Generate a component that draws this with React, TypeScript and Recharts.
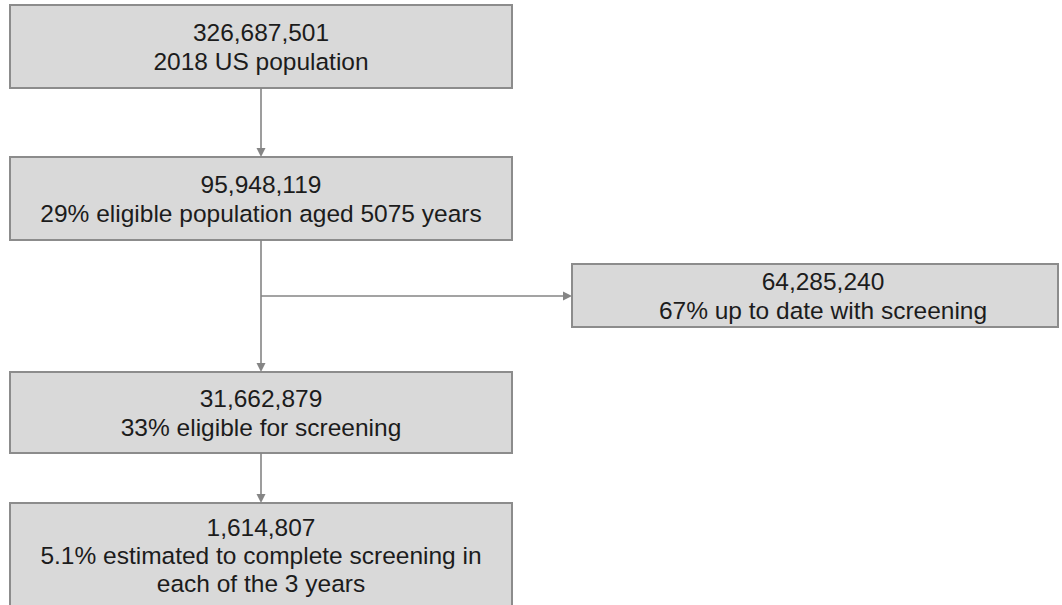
import { ComposedChart, XAxis, YAxis, ReferenceArea, ReferenceLine } from 'recharts';

// page has an 8px body margin by default, the flowchart fills the window
if (typeof document !== 'undefined') document.body.style.margin = '0';

const W = 1062;
const H = 605;

// step values and captions
const counts = [326687501, 95948119, 64285240, 31662879, 1614807];
const captions = [
  ['2018 US population'],
  ['29% eligible population aged 5075 years'],
  ['67% up to date with screening'],
  ['33% eligible for screening'],
  ['5.1% estimated to complete screening in', 'each of the 3 years'],
];
// arrows between steps [from, to]
const flows = [
  [0, 1],
  [1, 2],
  [1, 3],
  [3, 4],
];

// layout of the boxes (axis units == px)
const boxes = [
  { x1: 10, x2: 512, y1: 5, y2: 88, tx: 0 },
  { x1: 10, x2: 512, y1: 157, y2: 240, tx: 0 },
  { x1: 572, x2: 1058, y1: 264, y2: 327, tx: 8 },
  { x1: 10, x2: 512, y1: 372, y2: 453, tx: 0 },
  { x1: 10, x2: 512, y1: 503, y2: 608, tx: 0 },
];
const branchY = 296;

const LINE = '#858585';

const Arrow = (p: any) => {
  const { x1, y1, x2, y2 } = p;
  const a = Math.atan2(y2 - y1, x2 - x1);
  const len = 9;
  const half = 4.5;
  const bx = x2 - len * Math.cos(a);
  const by = y2 - len * Math.sin(a);
  const pts = `${x2},${y2} ${bx - half * Math.sin(a)},${by + half * Math.cos(a)} ${bx + half * Math.sin(a)},${by - half * Math.cos(a)}`;
  return (
    <g>
      <line x1={x1} y1={y1} x2={bx} y2={by} stroke={LINE} strokeWidth={1.6} />
      <polygon points={pts} fill={LINE} />
    </g>
  );
};

const BoxText = ({ viewBox, lines, dx }: any) => {
  if (!viewBox) return null;
  const { x, y, width, height } = viewBox;
  const cx = x + width / 2 + (dx || 0);
  const cy = y + height / 2;
  const gap = lines.length > 2 ? 28 : 29;
  return (
    <text
      textAnchor="middle"
      fontFamily="'Liberation Sans', Arial, sans-serif"
      fontSize={24.5}
      fill="#1c1c1c"
    >
      {lines.map((l: string, i: number) => (
        <tspan key={i} x={cx} y={cy + (i - (lines.length - 1) / 2) * gap + 8.5}>
          {l}
        </tspan>
      ))}
    </text>
  );
};

function segmentFor(from: number, to: number) {
  const a = boxes[from];
  const b = boxes[to];
  const cx = (a.x1 + a.x2) / 2;
  if (b.x1 > a.x2) {
    // side branch off the main trunk
    return [
      { x: cx, y: branchY },
      { x: b.x1, y: branchY },
    ];
  }
  return [
    { x: cx, y: a.y2 },
    { x: cx, y: b.y1 },
  ];
}

export default function App() {
  return (
    <div style={{ width: W, height: H, background: '#fff' }}>
      <ComposedChart width={W} height={H} data={[]} margin={{ top: 0, right: 0, bottom: 0, left: 0 }}>
        <XAxis type="number" dataKey="x" domain={[0, W]} hide allowDataOverflow />
        <YAxis type="number" dataKey="y" domain={[0, H]} reversed hide allowDataOverflow />
        {flows.map(([f, t], i) => (
          <ReferenceLine
            key={`flow-${i}`}
            segment={segmentFor(f, t)}
            ifOverflow="visible"
            shape={Arrow}
          />
        ))}
        {boxes.map((b, i) => (
          <ReferenceArea
            key={`box-${i}`}
            x1={b.x1}
            x2={b.x2}
            y1={b.y1}
            y2={b.y2}
            ifOverflow="visible"
            fill="#d9d9d9"
            fillOpacity={1}
            stroke="#8c8c8c"
            strokeWidth={2}
            label={<BoxText lines={[counts[i].toLocaleString('en-US'), ...captions[i]]} dx={b.tx} />}
          />
        ))}
      </ComposedChart>
    </div>
  );
}
